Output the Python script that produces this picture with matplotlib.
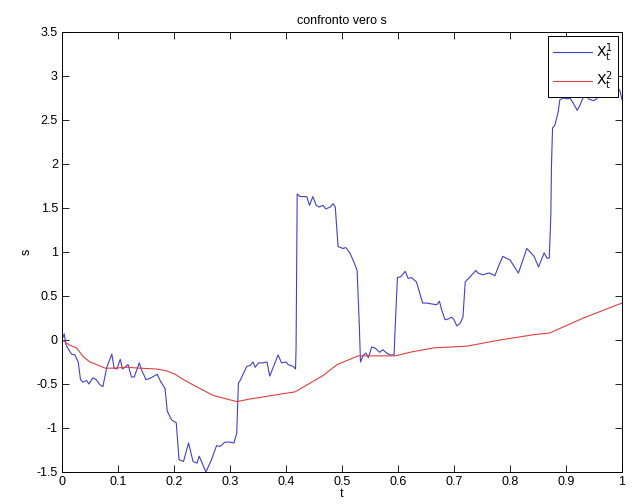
#!/usr/bin/env python3
import numpy as np
import matplotlib
matplotlib.use('Agg')
import matplotlib.pyplot as plt

plt.rcParams['font.family'] = ['Liberation Sans', 'DejaVu Sans']

# X_t^1 (blu)
t1 = [0.0, 0.004, 0.007, 0.01, 0.017, 0.023, 0.029, 0.033, 0.0375, 0.044,
      0.048, 0.055, 0.061, 0.068, 0.073, 0.080, 0.089, 0.093, 0.098, 0.104,
      0.108, 0.114, 0.118, 0.124, 0.129, 0.138, 0.142, 0.150, 0.156, 0.170,
      0.176, 0.184, 0.188, 0.196, 0.204, 0.209, 0.217, 0.226, 0.234, 0.241,
      0.245, 0.257, 0.267, 0.276, 0.282, 0.291, 0.300, 0.307, 0.312, 0.315,
      0.319, 0.324, 0.330, 0.336, 0.341, 0.345, 0.351, 0.359, 0.366, 0.371,
      0.379, 0.386, 0.392, 0.400, 0.404, 0.413, 0.417, 0.418, 0.420, 0.425,
      0.437, 0.442, 0.448, 0.454, 0.459, 0.466, 0.471, 0.479, 0.484, 0.488,
      0.493, 0.498, 0.501, 0.507, 0.514, 0.521, 0.527, 0.531, 0.533, 0.538,
      0.543, 0.547, 0.553, 0.559, 0.567, 0.573, 0.580, 0.586, 0.593, 0.595,
      0.599, 0.605, 0.613, 0.618, 0.624, 0.633, 0.639, 0.644, 0.651, 0.660,
      0.669, 0.674, 0.678, 0.684, 0.690, 0.696, 0.700, 0.705, 0.711, 0.716,
      0.720, 0.729, 0.739, 0.743, 0.752, 0.761, 0.764, 0.773, 0.779, 0.787,
      0.793, 0.800, 0.806, 0.815, 0.823, 0.830, 0.836, 0.843, 0.851, 0.861,
      0.866, 0.870, 0.871, 0.873, 0.874, 0.876, 0.880, 0.886, 0.889, 0.895,
      0.902, 0.907, 0.913, 0.920, 0.925, 0.931, 0.936, 0.940, 0.949, 0.955,
      0.958, 0.965, 0.975, 0.985, 0.989, 0.996, 1.0]
x1 = [0.0, 0.07, -0.05, -0.09, -0.16, -0.17, -0.25, -0.45, -0.48, -0.46,
      -0.50, -0.43, -0.45, -0.51, -0.53, -0.31, -0.16, -0.32, -0.33, -0.22,
      -0.33, -0.30, -0.28, -0.42, -0.42, -0.26, -0.34, -0.45, -0.44, -0.39,
      -0.47, -0.55, -0.81, -0.91, -0.94, -1.36, -1.38, -1.17, -1.38, -1.40,
      -1.32, -1.50, -1.36, -1.20, -1.21, -1.16, -1.16, -1.17, -1.06, -0.49,
      -0.45, -0.38, -0.30, -0.29, -0.25, -0.31, -0.26, -0.26, -0.25, -0.41,
      -0.28, -0.17, -0.26, -0.25, -0.28, -0.30, -0.33, -0.09, 1.66, 1.63,
      1.63, 1.53, 1.63, 1.53, 1.51, 1.53, 1.49, 1.51, 1.55, 1.51,
      1.06, 1.05, 1.04, 1.05, 0.99, 0.89, 0.79, 0.15, -0.25, -0.17,
      -0.15, -0.20, -0.08, -0.09, -0.14, -0.11, -0.15, -0.17, -0.17, 0.15,
      0.71, 0.72, 0.78, 0.70, 0.71, 0.66, 0.53, 0.42, 0.42, 0.41,
      0.40, 0.44, 0.34, 0.23, 0.24, 0.26, 0.23, 0.16, 0.19, 0.26,
      0.66, 0.72, 0.79, 0.76, 0.74, 0.76, 0.76, 0.73, 0.83, 0.95,
      0.93, 0.91, 0.85, 0.76, 0.91, 1.04, 1.00, 0.95, 0.83, 0.99,
      0.93, 0.93, 1.08, 1.44, 1.97, 2.41, 2.44, 2.59, 2.73, 2.75,
      2.74, 2.75, 2.69, 2.61, 2.67, 2.76, 2.80, 2.74, 2.72, 2.74,
      2.80, 2.86, 2.84, 2.90, 2.88, 2.84, 2.73]

# X_t^2 (rosso)
t2 = [0.0, 0.014, 0.026, 0.038, 0.050, 0.062, 0.077, 0.092, 0.116, 0.139,
      0.169, 0.187, 0.202, 0.217, 0.234, 0.246, 0.270, 0.294, 0.312, 0.336,
      0.366, 0.395, 0.416, 0.443, 0.467, 0.491, 0.514, 0.529, 0.595, 0.621,
      0.663, 0.723, 0.782, 0.842, 0.871, 0.931, 1.0]
x2 = [0.0, -0.06, -0.09, -0.19, -0.25, -0.28, -0.32, -0.32, -0.31, -0.32,
      -0.33, -0.35, -0.39, -0.45, -0.51, -0.55, -0.63, -0.67, -0.70, -0.67,
      -0.64, -0.61, -0.59, -0.49, -0.40, -0.28, -0.22, -0.18, -0.18, -0.14,
      -0.09, -0.07, 0.0, 0.06, 0.08, 0.25, 0.42]

fig = plt.figure(figsize=(6.35, 5.04), dpi=100)
ax = fig.add_axes([62 / 635, 32 / 504, 560 / 635, 440 / 504])

ax.plot(t1, x1, color='#4040d0', lw=0.8, label=r'$\mathrm{X_t^1}$')
ax.plot(t2, x2, color='#e04040', lw=0.8, label=r'$\mathrm{X_t^2}$')

ax.set_xlim(0, 1)
ax.set_ylim(-1.5, 3.5)
xt = np.arange(0, 1.01, 0.1)
yt = np.arange(-1.5, 3.51, 0.5)
ax.set_xticks(xt)
ax.set_xticklabels(['%g' % round(v, 1) for v in xt])
ax.set_yticks(yt)
ax.set_yticklabels(['%g' % round(v, 1) for v in yt])
ax.tick_params(direction='in', top=True, right=True, length=5, width=0.6,
               labelsize=9, pad=3)
for s in ax.spines.values():
    s.set_linewidth(0.7)

ax.set_title('confronto vero s', fontsize=9, pad=6)
ax.set_xlabel('t', fontsize=9, labelpad=0)
ax.set_ylabel('s', fontsize=9, labelpad=3)

leg = ax.legend(loc='upper right', fontsize=10, fancybox=False,
                edgecolor='black', framealpha=1, borderaxespad=0.3,
                handlelength=2.8, handletextpad=0.3, labelspacing=0.45,
                borderpad=0.35)
leg.get_frame().set_linewidth(0.7)

fig.savefig('out.png', dpi=100)
